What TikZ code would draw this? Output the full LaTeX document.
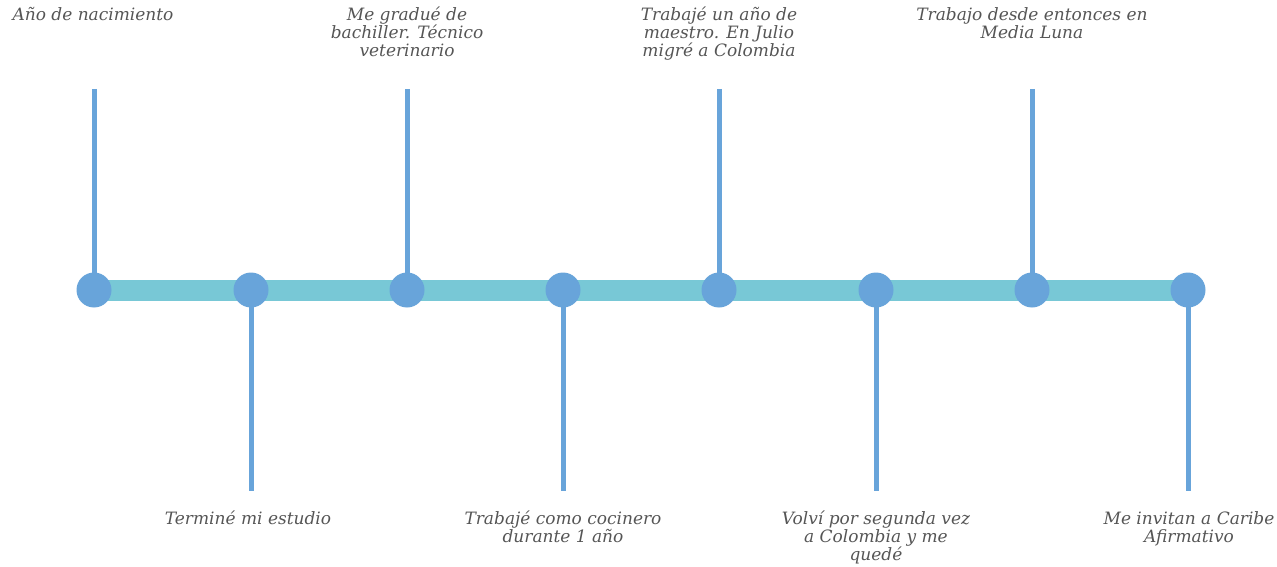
\documentclass[tikz,border=0pt]{standalone}
\usepackage{fontspec}
\setmainfont{DejaVu Serif}
\definecolor{barc}{HTML}{78C8D6}
\definecolor{dotc}{HTML}{68A4DA}
\definecolor{txtc}{HTML}{555555}
\begin{document}
\begin{tikzpicture}[x=1pt,y=-1pt,
  dot/.style={circle,fill=dotc,inner sep=0pt,minimum size=35pt},
  stem/.style={draw=dotc,line width=5pt},
  lbl/.style={font=\itshape\fontsize{17}{18}\selectfont,text=txtc,align=center,inner sep=0pt},
  toplbl/.style={lbl,anchor=north},
  botlbl/.style={lbl,anchor=north}]
\useasboundingbox (0,0) rectangle (1277,567);
\foreach \i/\x in {1/94,2/251,3/407,4/563,5/719,6/876,7/1032,8/1188}{
  \coordinate (p\i) at (\x,290);
}
\coordinate (t1) at (94,89);
\coordinate (t3) at (407,89);
\coordinate (t5) at (719,89);
\coordinate (t7) at (1032,89);
\coordinate (b2) at (251,491);
\coordinate (b4) at (563,491);
\coordinate (b6) at (876,491);
\coordinate (b8) at (1188,491);
\draw[barc,line width=21pt] (p1) -- (p8);
\foreach \i in {1,3,5,7}{ \draw[stem] (t\i) -- (p\i); }
\foreach \i in {2,4,6,8}{ \draw[stem] (p\i) -- (b\i); }
\foreach \i in {1,...,8}{ \node[dot] (d\i) at (p\i) {}; }
\node[toplbl] (l1) at (93,7) {Año de nacimiento};
\node[toplbl] (l3) at (407,7) {Me gradué de\\bachiller. Técnico\\veterinario};
\node[toplbl] (l5) at (719,7) {Trabajé un año de\\maestro. En Julio\\migré a Colombia};
\node[toplbl] (l7) at (1032,7) {Trabajo desde entonces en\\Media Luna};
\node[botlbl] (l2) at (248,511) {Terminé mi estudio};
\node[botlbl] (l4) at (563,511) {Trabajé como cocinero\\durante 1 año};
\node[botlbl] (l6) at (876,511) {Volví por segunda vez\\a Colombia y me\\quedé};
\node[botlbl] (l8) at (1189,511) {Me invitan a Caribe\\Afirmativo};
\end{tikzpicture}
\end{document}
